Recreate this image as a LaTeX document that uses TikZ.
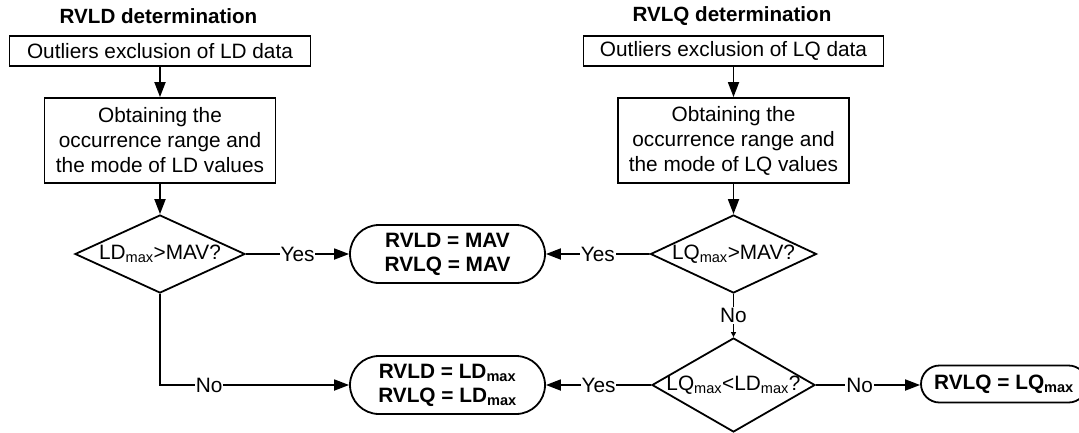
\documentclass[tikz,border=0pt]{standalone}
\usepackage{fontspec}
\setmainfont{Liberation Sans}
\usetikzlibrary{arrows.meta,shapes.geometric,shapes.misc}
\begin{document}
\begin{tikzpicture}[x=1pt,y=-1pt,
  every node/.style={font=\fontsize{20.8}{25}\selectfont},
  ttl/.style={font=\fontsize{20.6}{25}\bfseries\selectfont},
  proc/.style={draw, line width=1.8pt, align=center, inner sep=0pt},
  dec/.style={draw, diamond, line width=1.8pt, inner sep=0pt},
  term/.style={draw, rounded rectangle, line width=1.8pt, align=center, inner sep=0pt, font=\fontsize{20.8}{24}\bfseries\selectfont},
  conn/.style={line width=1.8pt, -{Triangle[length=15pt,width=11pt]}},
  sconn/.style={line width=1.8pt, -{Triangle[length=5pt,width=5pt]}},
  lbl/.style={fill=white, inner sep=1pt}]
\fill[white] (0,0) rectangle (1079,432);
\useasboundingbox (0,0) rectangle (1079,432);
% titles
\node[ttl] (t1) at (158.5,16) {RVLD determination};
\node[ttl] (t2) at (732,16) {RVLQ determination};
% LD column
\node[proc, minimum width=301pt, minimum height=30pt] (a1) at (160,51) {Outliers exclusion of LD data};
\node[proc, minimum width=231pt, minimum height=85pt] (a2) at (160,140.5) {Obtaining the\\occurrence range and\\the mode of LD values};
\node[dec, minimum width=170pt, minimum height=78pt] (d1) at (160,254) {};
\node (d1t) at (d1) {LD\textsubscript{max}>MAV?};
% LQ column
\node[proc, minimum width=300pt, minimum height=30pt] (b1) at (733.5,51) {Outliers exclusion of LQ data};
\node[proc, minimum width=231pt, minimum height=85pt] (b2) at (733.5,140.5) {Obtaining the\\occurrence range and\\the mode of LQ values};
\node[dec, minimum width=166pt, minimum height=78pt] (d2) at (733.5,254) {};
\node (d2t) at (d2) {LQ\textsubscript{max}>MAV?};
\node[dec, minimum width=163pt, minimum height=94pt] (d3) at (733.5,385) {};
\node (d3t) at (d3) {LQ\textsubscript{max}<LD\textsubscript{max}?};
% terminals
\node[term, minimum width=195pt, minimum height=58pt] (e1) at (447.5,254) {RVLD = MAV\\RVLQ = MAV};
\node[term, minimum width=195pt, minimum height=58pt] (e2) at (447.5,385) {RVLD = LD\textsubscript{max}\\RVLQ = LD\textsubscript{max}};
\node[term, minimum width=166pt, minimum height=37pt] (e3) at (1004,384) {RVLQ = LQ\textsubscript{max}};
% connectors
\draw[conn] (a1) -- (a2);
\draw[conn] (a2) -- (d1);
\draw[conn] (b1) -- (b2);
\draw[conn] (b2) -- (d2);
\draw[conn] (d1) -- node[lbl]{Yes} (e1);
\draw[conn] (d2) -- node[lbl]{Yes} (e1);
\draw[sconn] (d2) -- node[lbl]{No} (d3);
\draw[conn] (d3) -- node[lbl]{Yes} (e2);
\draw[conn] (d3.east) -- node[lbl, pos=0.42]{No} (e3.west |- d3.east);
\draw[conn] (d1.south) |- node[lbl, pos=0.63]{No} (e2.west);
\end{tikzpicture}
\end{document}
